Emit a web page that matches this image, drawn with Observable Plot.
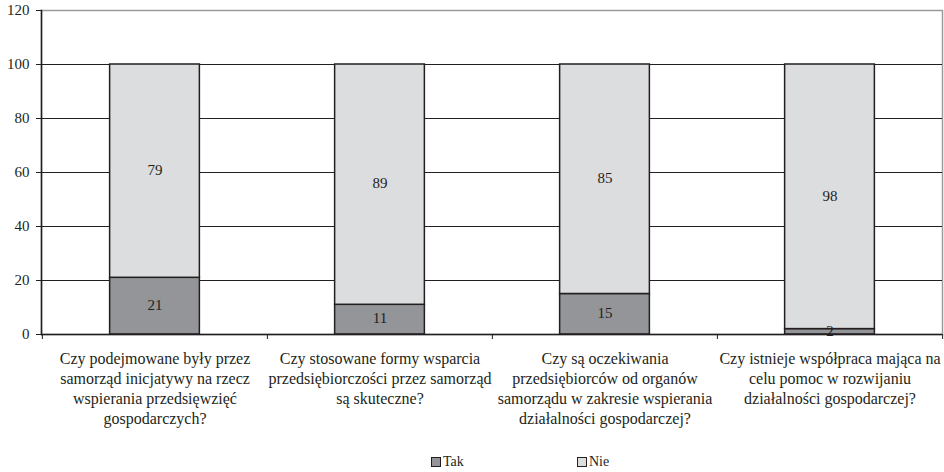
<!DOCTYPE html>
<html>
<head>
<meta charset="utf-8">
<script src="https://cdn.jsdelivr.net/npm/d3@7"></script>
<script src="https://cdn.jsdelivr.net/npm/@observablehq/plot@0.6"></script>
<style>
  body { margin: 0; background: white; font-family: "Liberation Serif", "Times New Roman", serif; color: #231f20; }
  #legend { position: relative; height: 27px; font-size: 14px; }
  .item { position: absolute; top: 9px; display: flex; align-items: center; }
  .sw { width: 8px; height: 8px; border: 1.5px solid #231f20; margin-right: 2px; }
</style>
</head>
<body>
<div id="chart"></div>
<div id="legend"></div>
<script>
const categories = [
  "Czy podejmowane były przez\nsamorząd inicjatywy na rzecz\nwspierania przedsięwzięć\ngospodarczych?",
  "Czy stosowane formy wsparcia\nprzedsiębiorczości przez samorząd\nsą skuteczne?",
  "Czy są oczekiwania\nprzedsiębiorców od organów\nsamorządu w zakresie wspierania\ndziałalności gospodarczej?",
  "Czy istnieje współpraca mająca na\ncelu pomoc w rozwijaniu\ndziałalności gospodarczej?"
];
const seriesNames = ["Tak", "Nie"];
const tak = [21, 11, 15, 2];
const nie = [79, 89, 85, 98];
const yTicks = [0, 20, 40, 60, 80, 100, 120];
const colors = ["#939598", "#dcdddf"];

const rows = categories.flatMap((c, i) => [
  {cat: c, series: "Tak", value: tak[i]},
  {cat: c, series: "Nie", value: nie[i]}
]);

const W = 944, H = 445, ML = 41, MR = 2, MT = 10, MB = 111;
const bw = (W - ML - MR) / categories.length;
const inset = (bw - 90) / 2;
const ink = "#231f20";
const serif = '"Liberation Serif", "Times New Roman", serif';

const chart = Plot.plot({
  width: W, height: H,
  marginLeft: ML, marginRight: MR, marginTop: MT, marginBottom: MB,
  style: {fontFamily: serif, fontSize: "15px", color: ink, background: "white"},
  x: {domain: categories, padding: 0, label: null},
  y: {domain: [0, 120], label: null},
  color: {domain: seriesNames, range: colors},
  marks: [
    Plot.frame({stroke: "#9a9a9a", strokeWidth: 1.5}),
    Plot.gridY([20, 40, 60, 80, 100], {stroke: ink, strokeOpacity: 1, strokeWidth: 1}),
    Plot.barY(rows, Plot.stackY({x: "cat", y: "value", fill: "series", stroke: ink, strokeWidth: 1.5, insetLeft: inset, insetRight: inset})),
    Plot.text(rows, Plot.stackY({x: "cat", y: "value", text: "value", fill: ink, fontSize: 15, fontFamily: serif, dy: -1})),
    Plot.ruleY([0], {stroke: ink, strokeWidth: 1.5}),
    Plot.frame({anchor: "left", stroke: ink, strokeWidth: 1.5}),
    Plot.ruleX(categories, {x: d => d, dx: -bw / 2, y1: 0, y2: 0, insetBottom: -5, stroke: ink, strokeWidth: 1}),
    Plot.ruleX([categories[categories.length - 1]], {x: d => d, dx: bw / 2, y1: 0, y2: 0, insetBottom: -5, stroke: ink, strokeWidth: 1}),
    Plot.axisY({ticks: yTicks, tickSize: 5, tickPadding: 7, fontSize: 15, fontFamily: serif, label: null, stroke: ink}),
    Plot.axisX({tickSize: 0, tickPadding: 15, fontSize: 16, fontFamily: serif, lineHeight: 1.25, label: null})
  ]
});
document.getElementById("chart").appendChild(chart);

const legend = document.getElementById("legend");
const lx = [431, 577];
seriesNames.forEach((s, i) => {
  const it = document.createElement("div");
  it.className = "item";
  it.style.left = lx[i] + "px";
  const sw = document.createElement("span");
  sw.className = "sw";
  sw.style.background = colors[i];
  const t = document.createElement("span");
  t.textContent = s;
  it.appendChild(sw); it.appendChild(t);
  legend.appendChild(it);
});
</script>
</body>
</html>
